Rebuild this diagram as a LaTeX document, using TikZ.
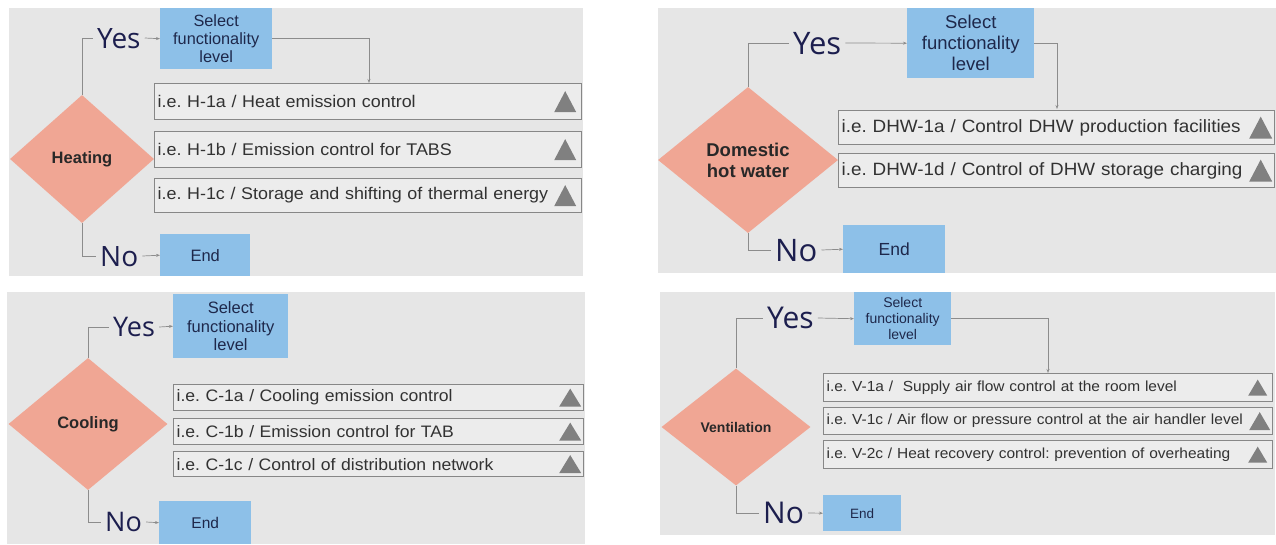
\documentclass[tikz,border=0pt]{standalone}
\usepackage{fontspec}
\setmainfont{Liberation Sans}
\newfontfamily\yesfont{Open Sans}
\newfontfamily\optfont[FakeStretch=1.06]{Liberation Sans}
\usetikzlibrary{shapes.geometric,arrows.meta}
\definecolor{bgc}{RGB}{230,230,230}
\definecolor{salmon}{RGB}{240,166,148}
\definecolor{selblue}{RGB}{141,192,232}
\definecolor{navy}{RGB}{28,30,78}
\definecolor{seltext}{RGB}{30,40,75}
\definecolor{optborder}{RGB}{135,135,135}
\definecolor{optfill}{RGB}{236,236,236}
\definecolor{opttext}{RGB}{50,50,50}
\definecolor{tricol}{RGB}{128,128,128}
\definecolor{linec}{RGB}{140,140,140}
\definecolor{diatext}{RGB}{40,40,40}
\newcommand{\opttri}[4]{\fill[tricol] ([xshift=-#2pt-#3pt, yshift=-#4pt/2]#1.east) -- ++(#3pt,0pt) -- ++(-#3pt/2,#4pt) -- cycle;}
\frenchspacing
\begin{document}
\begin{tikzpicture}[x=1pt,y=-1pt,
  panelbg/.style={fill=bgc, draw=none},
  dia/.style={diamond, fill=salmon, draw=none, inner sep=0pt, font=\bfseries, text=diatext, align=center},
  yn/.style={font=\yesfont\fontsize{#1}{#1}\selectfont, text=navy, inner ysep=0pt, inner xsep=4pt, text depth=0pt, anchor=west},
  selbox/.style={rectangle, fill=selblue, draw=none, anchor=north west, text=seltext, align=center, inner sep=0pt},
  endbox/.style={rectangle, fill=selblue, draw=none, anchor=north west, text=seltext, inner sep=0pt},
  optbox/.style={rectangle, fill=optfill, draw=optborder, line width=1.2pt, anchor=north west, text=opttext, align=left, inner xsep=3pt, inner ysep=0pt},
  conn/.style={draw=linec, line width=0.7pt},
  arr/.style={draw=linec, line width=0.7pt, -{Stealth[length=4pt,width=3pt]}}
]
\useasboundingbox (0,0) rectangle (1276,544);
\fill[white] (0,0) rectangle (1276,544);

% ---------------- Heating ----------------
\fill[panelbg] (9,8) rectangle (583,276);
\node[dia, minimum width=144pt, minimum height=128pt, font=\bfseries\fontsize{16.5}{18}\selectfont] (d1) at (82,159) {Heating};
\node[yn=28, text height=20pt] (y1) at (93,38) {Yes};
\node[yn=28, text height=20pt] (n1) at (96,256) {No};
\node[selbox, minimum width=112pt, minimum height=61pt, font=\fontsize{16.3}{18}\selectfont] (s1) at (160,8) {Select\\functionality\\level};
\node[endbox, minimum width=90pt, minimum height=42pt, font=\fontsize{16.5}{18}\selectfont] (e1) at (160,234) {End};
\node[optbox, text width=421pt, minimum height=36pt, font=\optfont\fontsize{16.9}{18}\selectfont] (o11) at (154,83) {i.e. H-1a / Heat emission control};
\node[optbox, text width=421pt, minimum height=36pt, font=\optfont\fontsize{16.9}{18}\selectfont] (o12) at (154,131) {i.e. H-1b / Emission control for TABS};
\node[optbox, text width=421pt, minimum height=34pt, font=\optfont\fontsize{16.9}{18}\selectfont] (o13) at (154,178) {i.e. H-1c / Storage and shifting of thermal energy};
\opttri{o11}{6}{22}{21}
\opttri{o12}{6}{22}{21}
\opttri{o13}{6}{22}{21}
\coordinate (t1) at (369,83);
\draw[conn] (d1.north) |- (y1.west);
\draw[arr] (y1.east) -- (s1.west);
\draw[arr] (s1.east) -| (t1);
\draw[conn] (d1.south) |- (n1.west);
\draw[arr] (n1.east) -- (e1.west);

% ---------------- Domestic hot water ----------------
\fill[panelbg] (658,8) rectangle (1276,273);
\node[dia, minimum width=180pt, minimum height=146pt, font=\bfseries\fontsize{18.5}{21}\selectfont] (d2) at (748,160) {Domestic\\hot water};
\node[yn=31, text height=22pt] (y2) at (789,43) {Yes};
\node[yn=31, text height=22pt] (n2) at (771,250) {No};
\node[selbox, minimum width=127pt, minimum height=70pt, font=\fontsize{18.5}{21}\selectfont] (s2) at (907,8) {Select\\functionality\\level};
\node[endbox, minimum width=102pt, minimum height=48pt, font=\fontsize{17.5}{20}\selectfont] (e2) at (843,225) {End};
\node[optbox, text width=430pt, minimum height=34pt, font=\optfont\fontsize{17.8}{20}\selectfont] (o21) at (838,110) {i.e. DHW-1a / Control DHW production facilities};
\node[optbox, text width=430pt, minimum height=34pt, font=\optfont\fontsize{17.8}{20}\selectfont] (o22) at (838,153) {i.e. DHW-1d / Control of DHW storage charging};
\opttri{o21}{3}{23}{22}
\opttri{o22}{3}{23}{22}
\coordinate (t2) at (1057,109);
\draw[conn] (d2.north) |- (y2.west);
\draw[arr] (y2.east) -- (s2.west);
\draw[arr] (s2.east) -| (t2);
\draw[conn] (d2.south) |- (n2.west);
\draw[arr] (n2.east) -- (e2.west);

% ---------------- Cooling ----------------
\fill[panelbg] (7,292) rectangle (585,544);
\node[dia, minimum width=159pt, minimum height=132pt, font=\bfseries\fontsize{16.5}{19}\selectfont] (d3) at (88,424) {Cooling};
\node[yn=27, text height=19pt] (y3) at (109,327) {Yes};
\node[yn=27, text height=19pt] (n3) at (101,522) {No};
\node[selbox, minimum width=115pt, minimum height=64pt, font=\fontsize{16.5}{18.5}\selectfont] (s3) at (173,294) {Select\\functionality\\level};
\node[endbox, minimum width=92pt, minimum height=43pt, font=\fontsize{15.5}{18}\selectfont] (e3) at (159,501) {End};
\node[optbox, text width=404pt, minimum height=26pt, font=\optfont\fontsize{16.6}{18}\selectfont] (o31) at (173,384) {i.e. C-1a / Cooling emission control};
\node[optbox, text width=404pt, minimum height=26pt, font=\optfont\fontsize{16.6}{18}\selectfont] (o32) at (173,418) {i.e. C-1b / Emission control for TAB};
\node[optbox, text width=404pt, minimum height=25pt, font=\optfont\fontsize{16.6}{18}\selectfont] (o33) at (173,451) {i.e. C-1c / Control of distribution network};
\opttri{o31}{3}{22}{18}
\opttri{o32}{3}{22}{18}
\opttri{o33}{3}{22}{18}
\draw[conn] (d3.north) |- (y3.west);
\draw[arr] (y3.east) -- (s3.west);
\draw[conn] (d3.south) |- (n3.west);
\draw[arr] (n3.east) -- (e3.west);

% ---------------- Ventilation ----------------
\fill[panelbg] (660,292) rectangle (1275,535);
\node[dia, minimum width=149pt, minimum height=117pt, font=\bfseries\fontsize{14}{16}\selectfont] (d4) at (736,427) {Ventilation};
\node[yn=30, text height=21pt] (y4) at (763,318) {Yes};
\node[yn=30, text height=21pt] (n4) at (759,513) {No};
\node[selbox, minimum width=97pt, minimum height=53pt, font=\fontsize{14}{16}\selectfont] (s4) at (854,292) {Select\\functionality\\level};
\node[endbox, minimum width=78pt, minimum height=36pt, font=\fontsize{13.5}{16}\selectfont] (e4) at (823,495) {End};
\node[optbox, text width=443pt, minimum height=28pt, font=\optfont\fontsize{14.6}{16}\selectfont] (o41) at (823,373) {i.e. V-1a /\ \ Supply air flow control at the room level};
\node[optbox, text width=443pt, minimum height=27pt, font=\optfont\fontsize{14.6}{16}\selectfont] (o42) at (823,407) {i.e. V-1c / Air flow or pressure control at the air handler level};
\node[optbox, text width=443pt, minimum height=28pt, font=\optfont\fontsize{14.6}{16}\selectfont] (o43) at (823,440) {i.e. V-2c / Heat recovery control: prevention of overheating};
\opttri{o41}{6}{19}{16}
\opttri{o42}{3}{21}{18}
\opttri{o43}{6}{19}{16}
\coordinate (t4) at (1048,373);
\draw[conn] (d4.north) |- (y4.west);
\draw[arr] (y4.east) -- (s4.west);
\draw[arr] (s4.east) -| (t4);
\draw[conn] (d4.south) |- (n4.west);
\draw[arr] (n4.east) -- (e4.west);
\end{tikzpicture}
\end{document}
